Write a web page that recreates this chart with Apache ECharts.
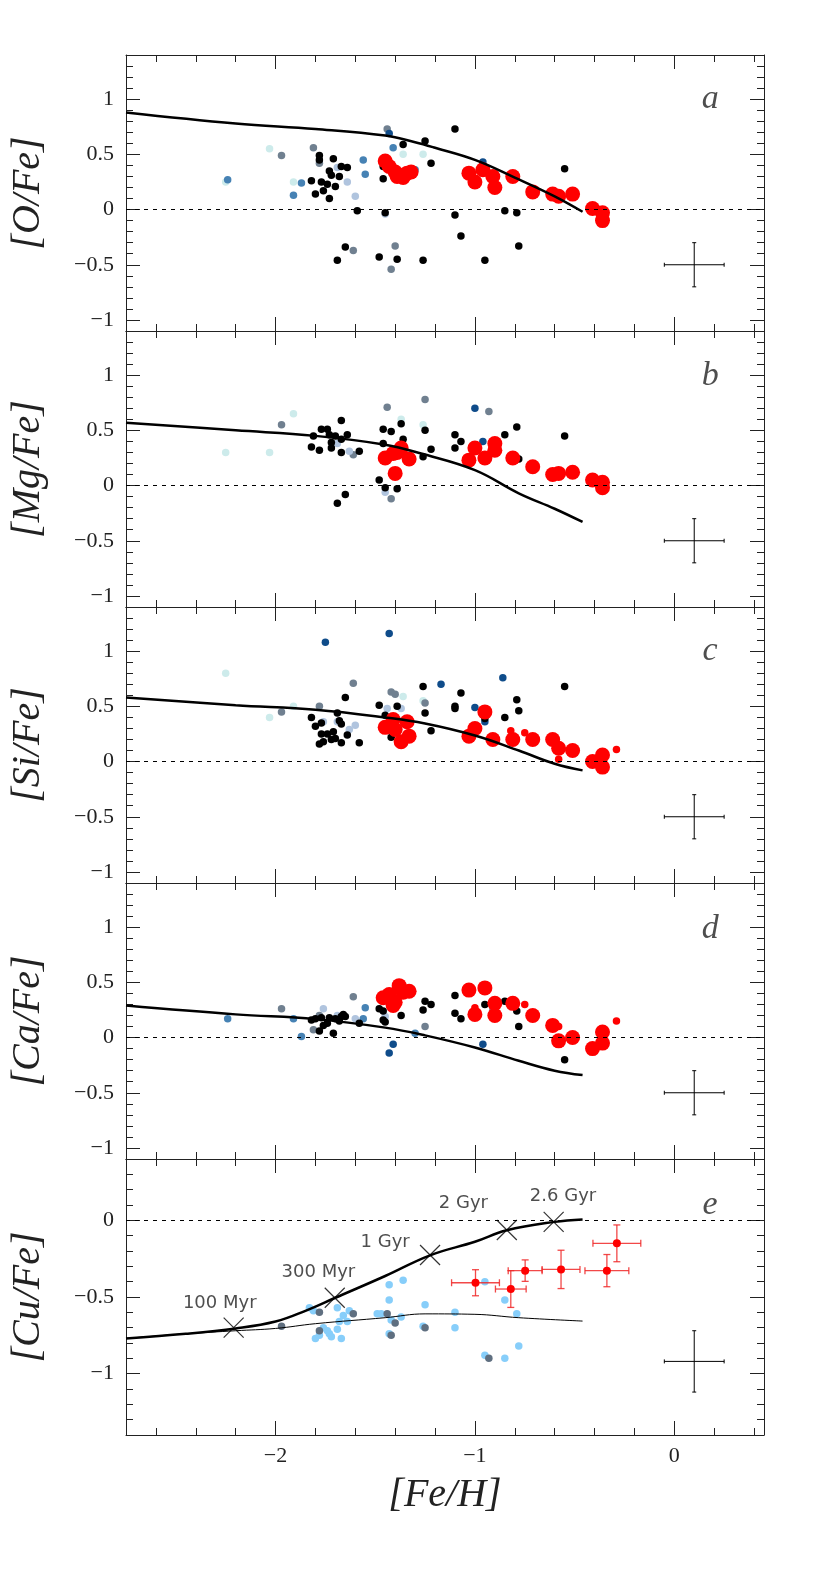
<!DOCTYPE html>
<html>
<head>
<meta charset="utf-8">
<script src="https://cdn.jsdelivr.net/npm/echarts@6/dist/echarts.min.js"></script>
<style>html,body{margin:0;padding:0;background:#fff}#main{width:830px;height:1581px}</style>
</head>
<body>
<div id="main"></div>
<script>
// shared x range and ticks
var xRange = [-2.75, 0.45];
var xMajor = [-2, -1, 0];
var xMinor = [-2.6, -2.4, -2.2, -1.8, -1.6, -1.4, -1.2, -0.8, -0.6, -0.4, -0.2, 0.2, 0.4];
var yMajorAD = [-1, -0.5, 0, 0.5, 1];
var yMinorAD = [-1, -0.9, -0.8, -0.7, -0.6, -0.4, -0.3, -0.2, -0.1, 0.1, 0.2, 0.3, 0.4, 0.6, 0.7, 0.8, 0.9, 1.1, 1.2, 1.3];
var yMajorE = [-1, -0.5, 0];
var yMinorE = [-1.3, -1.2, -1.1, -0.9, -0.8, -0.7, -0.6, -0.4, -0.3, -0.2, -0.1, 0.1, 0.2, 0.3];

// panel a  [O/Fe]
var aCyan = [[-2.25,0.25],[-2.03,0.55],[-1.91,0.25],[-1.36,0.50],[-1.26,0.50]];
var aSteel = [[-2.24,0.27],[-1.91,0.13],[-1.87,0.24],[-1.56,0.45],[-1.55,0.32],[-1.41,0.56],[-1.30,0.36]];
var aSlate = [[-1.97,0.49],[-1.81,0.56],[-1.78,0.42],[-1.61,-0.37],[-1.44,0.73],[-1.40,-0.33],[-1.42,-0.54]];
var aNavy = [[-1.43,0.69],[-0.96,0.43]];
var aPale = [[-1.64,0.25],[-1.60,0.12],[-1.45,-0.04],[-1.69,0.38]];
var aBlack = [[-1.82,0.26],[-1.80,0.14],[-1.78,0.49],[-1.78,0.45],[-1.77,0.25],[-1.76,0.17],[-1.74,0.23],[-1.73,0.35],[-1.72,0.31],[-1.73,0.10],[-1.71,0.46],[-1.70,0.21],[-1.68,0.30],[-1.67,0.39],[-1.64,0.38],[-1.65,-0.34],[-1.69,-0.46],[-1.59,-0.01],[-1.46,0.39],[-1.46,0.28],[-1.45,-0.03],[-1.48,-0.43],[-1.39,-0.45],[-1.36,0.59],[-1.26,-0.46],[-1.25,0.62],[-1.22,0.42],[-1.10,0.73],[-1.10,-0.05],[-1.07,-0.24],[-0.95,-0.46],[-0.85,-0.01],[-0.79,-0.03],[-0.78,-0.33],[-0.55,0.37]];
var aRed = [[-1.45,0.44],[-1.43,0.39],[-1.40,0.34],[-1.38,0.31],[-1.36,0.29],[-1.34,0.33],[-1.32,0.34],[-1.39,0.30],[-1.03,0.33],[-1.00,0.25],[-0.96,0.36],[-0.91,0.30],[-0.90,0.20],[-0.81,0.30],[-0.71,0.16],[-0.61,0.14],[-0.58,0.12],[-0.51,0.14],[-0.41,0.01],[-0.36,-0.03],[-0.36,-0.10]];
var aModel = [[-2.75,0.88],[-2.2,0.78],[-1.8,0.73],[-1.45,0.67],[-1.3,0.61],[-1.2,0.56],[-1.0,0.45],[-0.8,0.29],[-0.6,0.12],[-0.46,-0.02]];

// panel b  [Mg/Fe]
var bCyan = [[-2.25,0.30],[-2.03,0.30],[-1.91,0.65],[-1.37,0.60],[-1.26,0.55]];
var bSlate = [[-1.97,0.55],[-1.44,0.71],[-1.42,-0.12],[-1.61,0.28],[-1.25,0.78],[-0.93,0.67]];
var bNavy = [[-1.00,0.70],[-0.96,0.40]];
var bPale = [[-1.63,0.31],[-1.45,-0.06],[-1.69,0.38]];
var bBlack = [[-1.82,0.35],[-1.81,0.45],[-1.78,0.32],[-1.77,0.51],[-1.74,0.51],[-1.73,0.46],[-1.72,0.39],[-1.72,0.34],[-1.70,0.45],[-1.67,0.59],[-1.67,0.42],[-1.67,0.30],[-1.64,0.46],[-1.58,0.31],[-1.65,-0.08],[-1.69,-0.16],[-1.48,0.05],[-1.46,0.51],[-1.42,0.49],[-1.46,0.38],[-1.45,-0.02],[-1.39,-0.03],[-1.37,0.56],[-1.36,0.42],[-1.26,0.26],[-1.25,0.50],[-1.22,0.33],[-1.10,0.46],[-1.10,0.34],[-1.07,0.40],[-0.85,0.46],[-0.79,0.53],[-0.78,0.24],[-0.55,0.45]];
var bRed = [[-1.45,0.25],[-1.41,0.29],[-1.40,0.11],[-1.37,0.34],[-1.33,0.24],[-1.39,0.30],[-1.03,0.23],[-1.00,0.34],[-0.95,0.25],[-0.90,0.38],[-0.90,0.32],[-0.81,0.25],[-0.71,0.17],[-0.61,0.10],[-0.58,0.11],[-0.51,0.12],[-0.41,0.05],[-0.36,0.03],[-0.36,-0.02]];
var bModel = [[-2.75,0.57],[-2.2,0.50],[-1.8,0.45],[-1.45,0.37],[-1.27,0.29],[-1.0,0.14],[-0.78,-0.07],[-0.6,-0.21],[-0.46,-0.33]];

// panel c  [Si/Fe]
var cCyan = [[-2.25,0.80],[-2.03,0.40],[-1.91,0.50],[-1.36,0.59],[-1.26,0.55]];
var cSlate = [[-1.97,0.45],[-1.78,0.50],[-1.61,0.71],[-1.42,0.63],[-1.40,0.61],[-1.25,0.53]];
var cNavy = [[-1.75,1.08],[-1.43,1.16],[-1.17,0.70],[-0.86,0.76],[-1.00,0.49],[-0.95,0.36]];
var cPale = [[-1.76,0.36],[-1.63,0.29],[-1.60,0.33],[-1.69,0.36],[-1.44,0.48],[-1.37,0.48]];
var cBlack = [[-1.82,0.40],[-1.80,0.32],[-1.77,0.35],[-1.77,0.25],[-1.78,0.16],[-1.76,0.18],[-1.74,0.25],[-1.72,0.20],[-1.71,0.27],[-1.70,0.21],[-1.69,0.44],[-1.68,0.37],[-1.67,0.17],[-1.67,0.34],[-1.65,0.58],[-1.64,0.24],[-1.58,0.17],[-1.48,0.51],[-1.45,0.42],[-1.42,0.22],[-1.39,0.50],[-1.26,0.68],[-1.25,0.44],[-1.22,0.28],[-1.10,0.50],[-1.10,0.48],[-1.07,0.62],[-0.95,0.39],[-0.85,0.40],[-0.79,0.56],[-0.78,0.46],[-0.55,0.68]];
var cRed = [[-1.45,0.31],[-1.41,0.38],[-1.37,0.18],[-1.34,0.36],[-1.33,0.23],[-1.40,0.29],[-1.03,0.23],[-1.00,0.30],[-0.95,0.45],[-0.91,0.20],[-0.81,0.20],[-0.71,0.20],[-0.61,0.20],[-0.58,0.12],[-0.51,0.10],[-0.41,0.00],[-0.36,0.06],[-0.36,-0.05]];
var cRedSmall = [[-0.82,0.28],[-0.75,0.26],[-0.58,0.02],[-0.29,0.11]];
var cModel = [[-2.75,0.58],[-2.2,0.51],[-1.8,0.47],[-1.45,0.40],[-1.25,0.345],[-1.0,0.236],[-0.78,0.10],[-0.6,-0.02],[-0.46,-0.08]];

// panel d  [Ca/Fe]
var dSteel = [[-2.24,0.17],[-1.91,0.17],[-1.87,0.01],[-1.55,0.27],[-1.56,0.17],[-1.30,0.04]];
var dSlate = [[-1.97,0.26],[-1.81,0.07],[-1.78,0.20],[-1.61,0.37],[-1.25,0.10],[-0.91,0.25]];
var dNavy = [[-1.43,-0.14],[-1.41,-0.06],[-0.96,-0.06]];
var dPale = [[-1.76,0.26],[-1.69,0.20],[-1.60,0.17],[-1.45,0.19]];
var dBlack = [[-1.82,0.16],[-1.80,0.17],[-1.78,0.06],[-1.77,0.18],[-1.76,0.11],[-1.74,0.13],[-1.73,0.18],[-1.71,0.04],[-1.70,0.17],[-1.68,0.15],[-1.67,0.19],[-1.66,0.21],[-1.65,0.19],[-1.58,0.13],[-1.48,0.26],[-1.46,0.24],[-1.46,0.16],[-1.45,0.14],[-1.37,0.20],[-1.26,0.25],[-1.25,0.33],[-1.22,0.30],[-1.10,0.38],[-1.10,0.22],[-1.07,0.17],[-0.95,0.30],[-0.85,0.33],[-0.79,0.24],[-0.78,0.10],[-0.55,-0.20]];
var dRed = [[-1.46,0.36],[-1.43,0.39],[-1.40,0.32],[-1.38,0.47],[-1.36,0.41],[-1.33,0.42],[-1.41,0.29],[-1.03,0.43],[-1.00,0.21],[-0.95,0.45],[-0.90,0.31],[-0.90,0.20],[-0.81,0.31],[-0.71,0.20],[-0.61,0.11],[-0.58,-0.03],[-0.51,0.00],[-0.41,-0.10],[-0.36,0.05],[-0.36,-0.05]];
var dRedSmall = [[-1.00,0.27],[-0.75,0.30],[-0.58,0.10],[-0.29,0.15]];
var dModel = [[-2.75,0.29],[-2.2,0.21],[-1.8,0.167],[-1.45,0.09],[-1.25,0.02],[-1.0,-0.09],[-0.78,-0.21],[-0.6,-0.30],[-0.46,-0.34]];

// panel e  [Cu/Fe]
var eSky = [[-1.83,-0.57],[-1.81,-0.59],[-1.80,-0.77],[-1.78,-0.75],[-1.76,-0.70],[-1.74,-0.72],[-1.73,-0.74],[-1.72,-0.76],[-1.69,-0.57],[-1.69,-0.71],[-1.68,-0.66],[-1.66,-0.62],[-1.64,-0.66],[-1.67,-0.77],[-1.63,-0.59],[-1.49,-0.61],[-1.47,-0.61],[-1.43,-0.42],[-1.43,-0.52],[-1.43,-0.74],[-1.42,-0.65],[-1.37,-0.63],[-1.36,-0.39],[-1.25,-0.55],[-1.26,-0.69],[-1.10,-0.60],[-1.10,-0.70],[-0.95,-0.40],[-0.95,-0.88],[-0.85,-0.52],[-0.85,-0.90],[-0.79,-0.61],[-0.78,-0.82]];
var eSlate = [[-1.97,-0.69],[-1.78,-0.60],[-1.78,-0.72],[-1.61,-0.61],[-1.44,-0.61],[-1.40,-0.67],[-1.42,-0.75],[-1.25,-0.70],[-0.93,-0.90]];
// x, y, x error, y error
var eRed = [[-0.997,-0.407,0.12,0.085],[-0.82,-0.448,0.077,0.12],[-0.748,-0.328,0.085,0.07],[-0.568,-0.32,0.095,0.125],[-0.338,-0.328,0.11,0.105],[-0.288,-0.15,0.12,0.12]];
var eThick = [[-2.75,-0.77],[-2.45,-0.74],[-2.2,-0.705],[-2.0,-0.66],[-1.85,-0.59],[-1.7,-0.505],[-1.45,-0.363],[-1.225,-0.228],[-1.0,-0.14],[-0.84,-0.065],[-0.6,-0.01],[-0.46,0.006]];
var eThin = [[-2.75,-0.77],[-2.45,-0.74],[-2.2,-0.72],[-2.0,-0.705],[-1.8,-0.674],[-1.45,-0.635],[-1.25,-0.61],[-1.0,-0.613],[-0.78,-0.635],[-0.46,-0.657]];
var ageX = [-2.21, -1.703, -1.225, -0.84, -0.605];
var ageY = [-0.70, -0.505, -0.226, -0.063, -0.01];
var ageText = ['100 Myr', '300 Myr', '1 Gyr', '2 Gyr', '2.6 Gyr'];
var ageTextX = [-2.28, -1.785, -1.45, -1.058, -0.558];
var ageTextY = [-0.54, -0.34, -0.146, 0.108, 0.158];

// typical error bars (x, y, xerr, yerr) and panel letters
var typErrAD = [[0.1, -0.5, 0.15, 0.2]];
var typErrE = [[0.1, -0.92, 0.15, 0.2]];
var letterX = 0.18;
var letterY = [1.0, 0.99, 1.0, 0.985, 0.10];

var colCyan = '#cdebeb', colSteel = '#4682b4', colSlate = '#708090', colNavy = '#0f4c8a',
    colPale = '#b0c4de', colSky = '#87cefa', colSlateE = '#5f6f80', colRed = '#ff0000';

var panels = [
    {name: '[O/Fe]', letter: 'a', ymin: -1.1, ymax: 1.4, major: yMajorAD, minor: yMinorAD},
    {name: '[Mg/Fe]', letter: 'b', ymin: -1.1, ymax: 1.4, major: yMajorAD, minor: yMinorAD},
    {name: '[Si/Fe]', letter: 'c', ymin: -1.1, ymax: 1.4, major: yMajorAD, minor: yMinorAD},
    {name: '[Ca/Fe]', letter: 'd', ymin: -1.1, ymax: 1.4, major: yMajorAD, minor: yMinorAD},
    {name: '[Cu/Fe]', letter: 'e', ymin: -1.4, ymax: 0.4, major: yMajorE, minor: yMinorE}
];

var serif = '"Liberation Serif", "DejaVu Serif", serif';

function fmt(v) { return String(v).replace('-', '\u2212'); }

var grids = [], xAxes = [], yAxes = [], series = [];
var lineCol = '#222';

panels.forEach(function (p, i) {
    var last = i === panels.length - 1;
    grids.push({left: 126, width: 638, top: 55 + i * 276, height: 276, containLabel: false});
    [['bottom', true], ['bottom', false], ['top', true], ['top', false]].forEach(function (o) {
        var showLab = o[1] && last && o[0] === 'bottom';
        xAxes.push({
            type: 'value', gridIndex: i, position: o[0], min: xRange[0], max: xRange[1],
            axisLine: {show: o[1], onZero: false, lineStyle: {color: lineCol, width: 1}},
            axisTick: {show: true, inside: true, length: o[1] ? 14 : 7, customValues: o[1] ? xMajor : xMinor, lineStyle: {color: lineCol, width: 1}},
            axisLabel: {show: showLab, customValues: xMajor, formatter: fmt, fontFamily: serif, fontSize: 22, color: lineCol, margin: 10},
            splitLine: {show: false},
            name: showLab ? '[Fe/H]' : '', nameLocation: 'middle', nameGap: 40,
            nameTextStyle: {fontFamily: serif, fontStyle: 'italic', fontSize: 40, color: lineCol}
        });
    });
    [['left', true], ['left', false], ['right', true], ['right', false]].forEach(function (o) {
        var showLab = o[1] && o[0] === 'left';
        yAxes.push({
            type: 'value', gridIndex: i, position: o[0], min: p.ymin, max: p.ymax,
            axisLine: {show: o[1], onZero: false, lineStyle: {color: lineCol, width: 1}},
            axisTick: {show: true, inside: true, length: o[1] ? 14 : 7, customValues: o[1] ? p.major : p.minor, lineStyle: {color: lineCol, width: 1}},
            axisLabel: {show: showLab, customValues: p.major, formatter: fmt, fontFamily: serif, fontSize: 22, color: lineCol, margin: 12},
            splitLine: {show: false},
            name: showLab ? p.name : '', nameLocation: 'middle', nameGap: 78, nameRotate: 90,
            nameTextStyle: {fontFamily: serif, fontStyle: 'italic', fontSize: 40, color: lineCol}
        });
    });
});

function dots(i, data, color, size, z) {
    return {type: 'scatter', xAxisIndex: i * 4, yAxisIndex: i * 4, data: data, symbolSize: size,
        itemStyle: {color: color, opacity: 1}, z: z, silent: true};
}

function curve(i, data, width, zero) {
    var s = {type: 'line', xAxisIndex: i * 4, yAxisIndex: i * 4, data: data, showSymbol: false, symbol: 'none',
        smooth: 0.4, lineStyle: {color: '#000', width: width}, z: 6, silent: true};
    if (zero) {
        s.markLine = {silent: true, symbol: ['none', 'none'], label: {show: false},
            lineStyle: {color: '#000', type: [4, 5], width: 1}, data: [{yAxis: 0}]};
    }
    return s;
}

function errBars(i, rows, color, cap, width, z) {
    return {type: 'custom', xAxisIndex: i * 4, yAxisIndex: i * 4, data: rows, z: z, silent: true,
        encode: {x: 0, y: 1},
        renderItem: function (params, api) {
            var x = api.value(0), y = api.value(1), ex = api.value(2), ey = api.value(3);
            var L = api.coord([x - ex, y]), R = api.coord([x + ex, y]);
            var T = api.coord([x, y + ey]), B = api.coord([x, y - ey]);
            function seg(x1, y1, x2, y2) {
                return {type: 'line', shape: {x1: x1, y1: y1, x2: x2, y2: y2}, style: {stroke: color, lineWidth: width}};
            }
            return {type: 'group', children: [
                seg(L[0], L[1], R[0], R[1]), seg(T[0], T[1], B[0], B[1]),
                seg(L[0], L[1] - cap, L[0], L[1] + cap), seg(R[0], R[1] - cap, R[0], R[1] + cap),
                seg(T[0] - cap, T[1], T[0] + cap, T[1]), seg(B[0] - cap, B[1], B[0] + cap, B[1])
            ]};
        }};
}

function letter(i) {
    return {type: 'scatter', xAxisIndex: i * 4, yAxisIndex: i * 4, symbolSize: 1, itemStyle: {color: 'rgba(0,0,0,0)'},
        data: [{value: [letterX, letterY[i]], name: panels[i].letter}], silent: true, z: 8,
        label: {show: true, position: 'inside', formatter: '{b}', fontFamily: serif, fontStyle: 'italic', fontSize: 34, color: lineCol}};
}

var small = 7.5, big = 15;

// a
series.push(dots(0, aCyan, colCyan, small, 2), dots(0, aSteel, colSteel, small, 2), dots(0, aSlate, colSlate, small, 2),
    dots(0, aPale, colPale, small, 2), dots(0, aNavy, colNavy, small, 2), dots(0, aBlack, '#000', small, 3),
    dots(0, aRed, colRed, big, 4), curve(0, aModel, 2.5, true), errBars(0, typErrAD, '#000', 2, 1, 5), letter(0));
// b
series.push(dots(1, bCyan, colCyan, small, 2), dots(1, bSlate, colSlate, small, 2), dots(1, bPale, colPale, small, 2),
    dots(1, bNavy, colNavy, small, 2), dots(1, bBlack, '#000', small, 3),
    dots(1, bRed, colRed, big, 4), curve(1, bModel, 2.5, true), errBars(1, typErrAD, '#000', 2, 1, 5), letter(1));
// c
series.push(dots(2, cCyan, colCyan, small, 2), dots(2, cSlate, colSlate, small, 2), dots(2, cPale, colPale, small, 2),
    dots(2, cNavy, colNavy, small, 2), dots(2, cBlack, '#000', small, 3),
    dots(2, cRed, colRed, big, 4), dots(2, cRedSmall, colRed, small, 4), curve(2, cModel, 2.5, true),
    errBars(2, typErrAD, '#000', 2, 1, 5), letter(2));
// d
series.push(dots(3, dSteel, colSteel, small, 2), dots(3, dSlate, colSlate, small, 2), dots(3, dPale, colPale, small, 2),
    dots(3, dNavy, colNavy, small, 2), dots(3, dBlack, '#000', small, 3),
    dots(3, dRed, colRed, big, 4), dots(3, dRedSmall, colRed, small, 4), curve(3, dModel, 2.5, true),
    errBars(3, typErrAD, '#000', 2, 1, 5), letter(3));
// e
series.push(dots(4, eSky, colSky, small, 2), dots(4, eSlate, colSlateE, small, 2),
    curve(4, eThick, 2.5, true), curve(4, eThin, 1, false),
    errBars(4, eRed, 'rgba(240,40,40,0.85)', 3.5, 1.3, 4),
    dots(4, eRed.map(function (r) { return [r[0], r[1]]; }), colRed, 8, 5),
    errBars(4, typErrE, '#000', 2, 1, 5), letter(4));

series.push({type: 'scatter', xAxisIndex: 16, yAxisIndex: 16, symbol: 'path://M0,0L10,10M10,0L0,10', symbolSize: 20,
    itemStyle: {color: 'none', borderColor: '#000', borderWidth: 1.2}, z: 7, silent: true,
    data: ageX.map(function (x, k) { return [x, ageY[k]]; })});
series.push({type: 'scatter', xAxisIndex: 16, yAxisIndex: 16, symbolSize: 1, itemStyle: {color: 'rgba(0,0,0,0)'}, z: 8, silent: true,
    label: {show: true, position: 'inside', formatter: '{b}', fontFamily: 'DejaVu Sans', fontSize: 18, color: lineCol},
    data: ageText.map(function (t, k) { return {value: [ageTextX[k], ageTextY[k]], name: t}; })});

var chart = echarts.init(document.getElementById('main'));
chart.setOption({
    animation: false,
    backgroundColor: '#fff',
    grid: grids,
    xAxis: xAxes,
    yAxis: yAxes,
    series: series
});
</script>
</body>
</html>
